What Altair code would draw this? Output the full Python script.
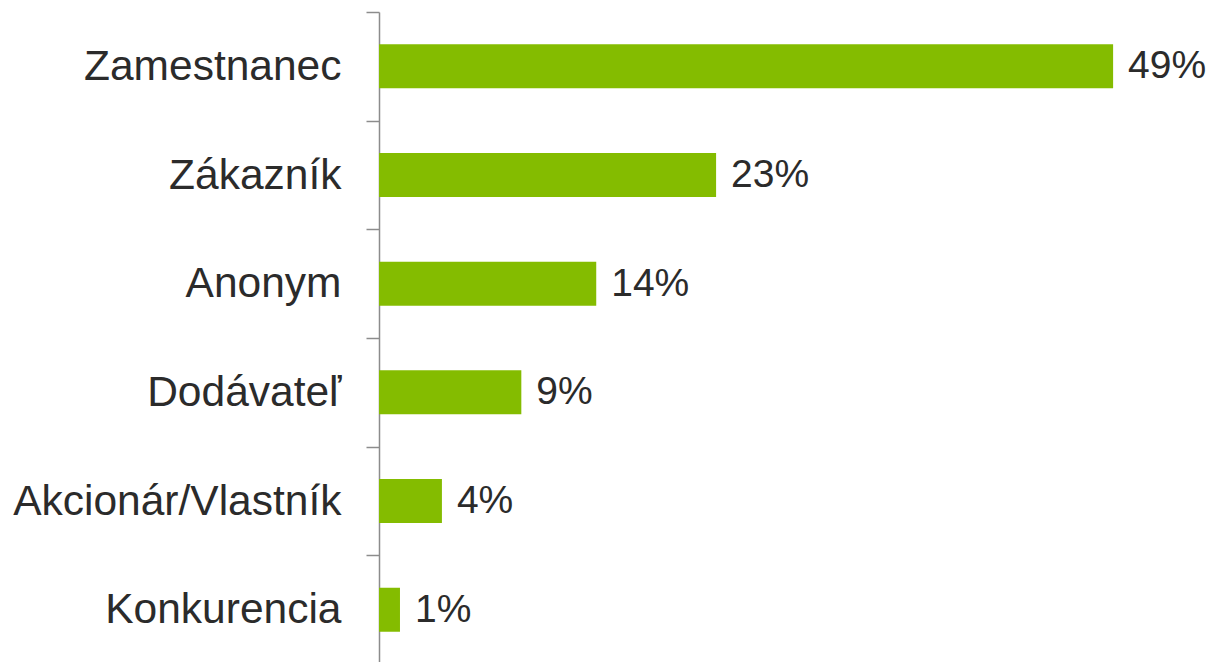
import altair as alt
import pandas as pd

categories = ["Zamestnanec", "Zákazník", "Anonym", "Dodávateľ", "Akcionár/Vlastník", "Konkurencia"]
values = [49.0, 22.5, 14.5, 9.5, 4.2, 1.4]
labels = ["49%", "23%", "14%", "9%", "4%", "1%"]

df = pd.DataFrame({"cat": categories, "val": values, "lab": labels})

FONT = "Liberation Sans"
TEXT = "#2b2b2b"

y_enc = alt.Y(
    "cat:N",
    sort=categories,
    scale=alt.Scale(paddingInner=0, paddingOuter=0),
    axis=alt.Axis(
        title=None,
        tickBand="extent",
        domainColor="#8c8c8c",
        domainWidth=1.5,
        tickColor="#8c8c8c",
        tickWidth=1.5,
        tickSize=13,
        labelPadding=25,
        labelFont=FONT,
        labelFontSize=42.5,
        labelColor=TEXT,
        labelLimit=0,
    ),
)
x_enc = alt.X("val:Q", scale=alt.Scale(domain=[0, 55.2], nice=False, zero=True), axis=None)

bars = alt.Chart(df).mark_bar(color="#84BC00", height=44).encode(y=y_enc, x=x_enc)
text = alt.Chart(df).mark_text(
    align="left", baseline="middle", dx=15, font=FONT, fontSize=39, color=TEXT
).encode(y=alt.Y("cat:N", sort=categories), x="val:Q", text="lab:N")

chart = (
    alt.layer(bars, text)
    .properties(
        width=827,
        height=652,
        autosize=alt.AutoSizeParams(type="none"),
        padding={"left": 371, "top": 4, "right": 0, "bottom": 0},
    )
    .configure_view(stroke=None)
)

chart.save("out.html", embed_options={"renderer": "svg", "actions": False})
